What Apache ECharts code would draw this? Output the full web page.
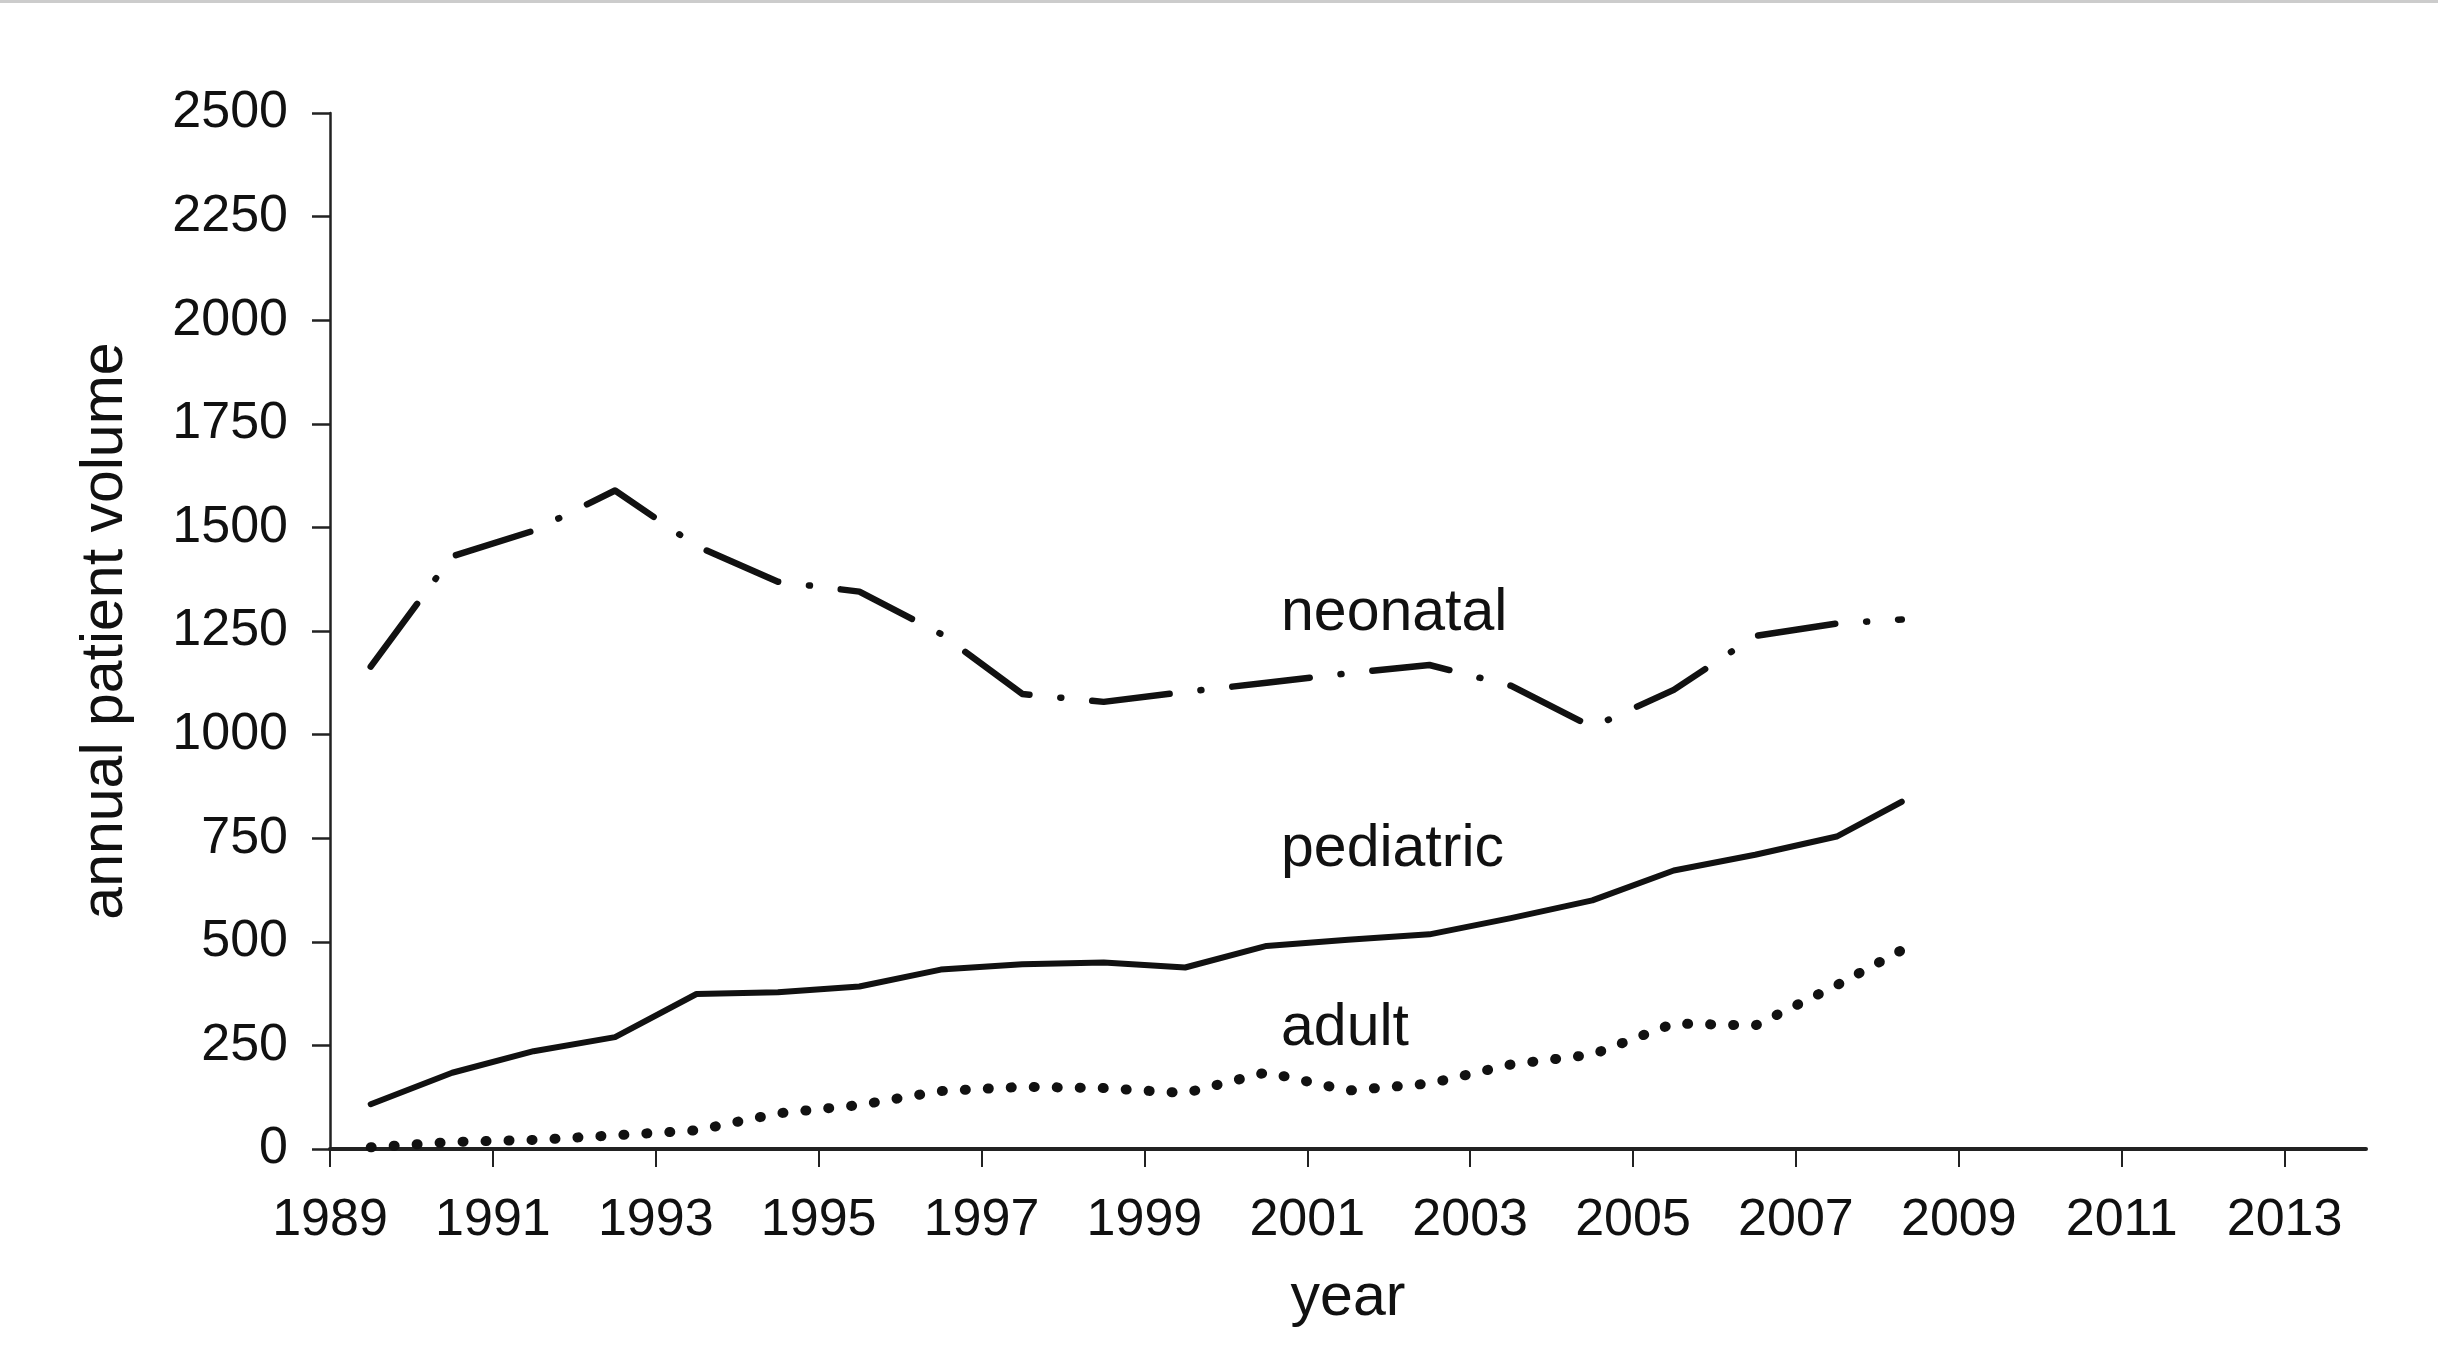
<!DOCTYPE html>
<html>
<head>
<meta charset="utf-8">
<script src="https://cdn.jsdelivr.net/npm/echarts@6/dist/echarts.min.js"></script>
<style>
html,body{margin:0;padding:0;background:#fff;}
#chart{width:2438px;height:1361px;}
</style>
</head>
<body>
<div id="chart"></div>
<script>
// Data (x = year position)
var years = [1989.5, 1990.5, 1991.5, 1992.5, 1993.5, 1994.5, 1995.5, 1996.5, 1997.5, 1998.5,
             1999.5, 2000.5, 2001.5, 2002.5, 2003.5, 2004.5, 2005.5, 2006.5, 2007.5, 2008.3];
var neonatal = [1164, 1430, 1492, 1589, 1455, 1369, 1345, 1243, 1098, 1079,
                1103, 1125, 1148, 1168, 1118, 1018, 1108, 1238, 1268, 1278];
var pediatric = [108, 184, 236, 270, 374, 378, 392, 433, 446, 450,
                 438, 490, 505, 518, 557, 600, 672, 710, 754, 838];
var adult = [4, 17, 22, 33, 45, 86, 106, 140, 150, 147,
             135, 185, 141, 158, 204, 228, 303, 298, 395, 480];
var xTicks = [1989, 1991, 1993, 1995, 1997, 1999, 2001, 2003, 2005, 2007, 2009, 2011, 2013];
var seriesNames = ['neonatal', 'pediatric', 'adult'];

function pairs(vals) { return years.map(function (y, i) { return [y, vals[i]]; }); }

var FONT = '"Liberation Sans", Arial, Helvetica, sans-serif';
var INK = '#111111';

var chart = echarts.init(document.getElementById('chart'));
chart.setOption({
  animation: false,
  backgroundColor: '#ffffff',
  grid: { left: 330, right: 72, top: 113, bottom: 212, containLabel: false },
  xAxis: {
    type: 'value',
    min: 1989, max: 2014,
    name: 'year',
    nameLocation: 'middle',
    nameGap: 120,
    nameTextStyle: { fontSize: 59, fontFamily: FONT, color: INK },
    splitLine: { show: false },
    axisLine: { show: true, lineStyle: { color: '#222', width: 4 } },
    axisTick: { show: true, length: 18, customValues: xTicks, lineStyle: { color: '#222', width: 2 } },
    axisLabel: { customValues: xTicks, margin: 46, fontSize: 52, fontFamily: FONT, color: INK,
                 formatter: function (v) { return String(v); } }
  },
  yAxis: {
    type: 'value',
    min: 0, max: 2500, interval: 250,
    name: 'annual patient volume',
    nameLocation: 'middle',
    nameGap: 195,
    nameRotate: 90,
    nameTextStyle: { fontSize: 59, fontFamily: FONT, color: INK },
    splitLine: { show: false },
    axisLine: { show: true, lineStyle: { color: '#222', width: 2.5 } },
    axisTick: { show: true, length: 18, lineStyle: { color: '#222', width: 2.5 } },
    axisLabel: { margin: 42, fontSize: 52, fontFamily: FONT, color: INK,
                 formatter: function (v) { return String(v); } }
  },
  series: [
    { name: seriesNames[0], type: 'line', data: pairs(neonatal), showSymbol: false, symbol: 'none',
      lineStyle: { color: INK, width: 6.5, type: [78, 31, 1, 31], cap: 'round', join: 'round' } },
    { name: seriesNames[1], type: 'line', data: pairs(pediatric), showSymbol: false, symbol: 'none',
      lineStyle: { color: INK, width: 6, type: 'solid', cap: 'round', join: 'round' } },
    { name: seriesNames[2], type: 'line', data: pairs(adult), showSymbol: false, symbol: 'none',
      lineStyle: { color: INK, width: 10, type: [1, 22], cap: 'round', join: 'round' } }
  ],
  graphic: [
    { type: 'rect', shape: { x: 0, y: 0, width: 2438, height: 3 }, style: { fill: '#cccccc' } },
    { type: 'text', x: 1281, y: 614, style: { text: seriesNames[0], fontSize: 59, fontFamily: FONT, fill: INK,
      textAlign: 'left', textVerticalAlign: 'middle', align: 'left', verticalAlign: 'middle' } },
    { type: 'text', x: 1281, y: 850, style: { text: seriesNames[1], fontSize: 59, fontFamily: FONT, fill: INK,
      textAlign: 'left', textVerticalAlign: 'middle', align: 'left', verticalAlign: 'middle' } },
    { type: 'text', x: 1281, y: 1029, style: { text: seriesNames[2], fontSize: 59, fontFamily: FONT, fill: INK,
      textAlign: 'left', textVerticalAlign: 'middle', align: 'left', verticalAlign: 'middle' } }
  ]
});
</script>
</body>
</html>
